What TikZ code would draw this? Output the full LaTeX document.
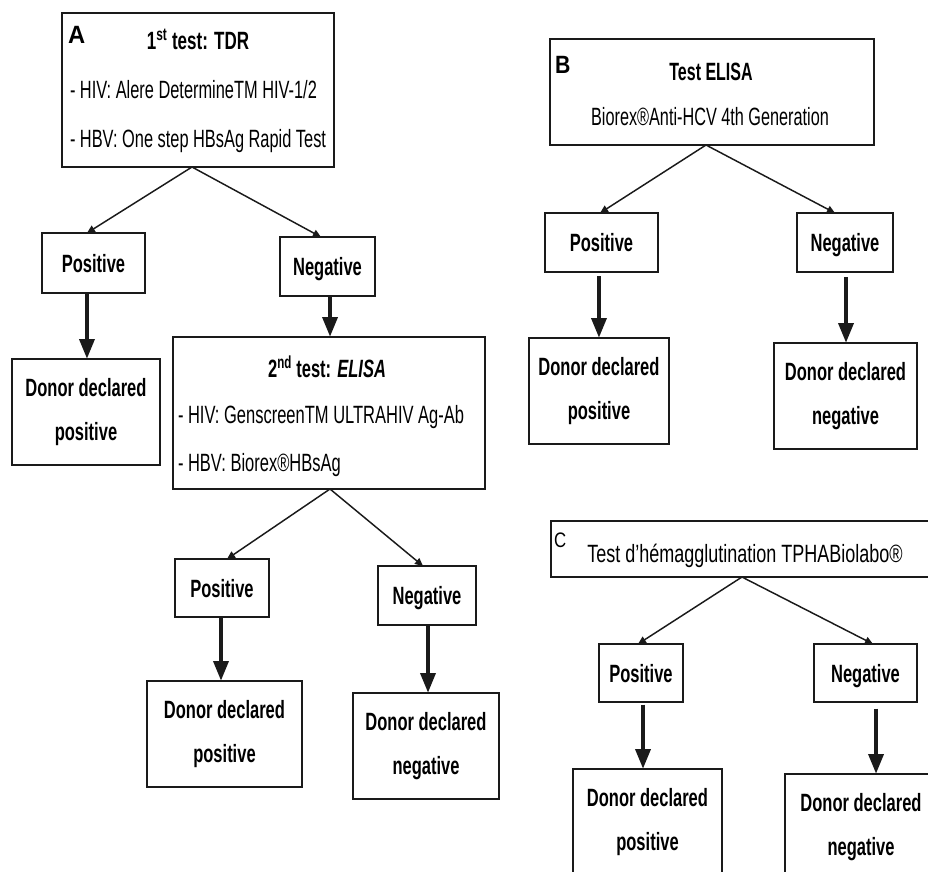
\documentclass[tikz,border=0pt]{standalone}
\usepackage{fontspec}
\setmainfont{Liberation Sans}
\usepackage{graphicx}
\usetikzlibrary{arrows.meta}
\definecolor{ink}{HTML}{1A1A1A}
\newcommand\bsq[2]{\scalebox{#1}[1]{\bfseries #2}}
\newcommand\rsq[2]{\scalebox{#1}[1]{#2}}
\tikzset{
  frame/.style={draw=ink, line width=1.5pt, inner sep=0pt, outer sep=0pt, fill=white},
  sz/.style 2 args={minimum width=#1*0.75pt, minimum height=#2*0.75pt},
  onel/.style={font=\fontsize{18.75pt}{22pt}\selectfont, text depth=0pt},
  twol/.style={font=\fontsize{18.75pt}{33pt}\selectfont, align=center},
  txt/.style={inner sep=0pt, outer sep=0pt, text=black, font=\fontsize{18.75pt}{22pt}\selectfont},
  thin/.style={draw=ink, line width=1.1pt, -{Triangle[length=6pt,width=5.5pt]}},
  thick/.style={draw=ink, line width=3.3pt, -{Triangle[length=15pt,width=11pt]}}
}
\begin{document}
\begin{tikzpicture}[x=0.75pt,y=-0.75pt]
\useasboundingbox (0,0) rectangle (928,871);
\clip (0,0) rectangle (928,871);
\fill[white] (0,0) rectangle (928,871);

% ---------- Panel A ----------
\node[frame, sz={272}{154}] (boxA) at (198,90) {};
\node[txt, anchor=base west] (labA) at (68,43) {\bsq{0.95}{A}};
\node[txt, anchor=base] (tA1) at (198,49) {\bsq{0.68}{1\textsuperscript{st} test: TDR}};
\node[txt, anchor=base west] (tA2) at (70,98) {\rsq{0.655}{- HIV: Alere DetermineTM HIV-1/2}};
\node[txt, anchor=base west] (tA3) at (70,147) {\rsq{0.655}{- HBV: One step HBsAg Rapid Test}};

\node[frame, sz={103}{60}, onel] (posA) at (93.5,263) {\bsq{0.66}{Positive}};
\node[frame, sz={95}{59}, onel] (negA) at (327.5,266.5) {\bsq{0.66}{Negative}};
\node[frame, sz={148}{106}, twol] (dposA) at (86,412) {\bsq{0.66}{Donor declared}\\\bsq{0.66}{positive}};

\node[frame, sz={312}{152}] (elisa) at (329,413) {};
\node[txt, anchor=base] (tE1) at (327,377) {\bsq{0.66}{2\textsuperscript{nd} test: \textit{ELISA}}};
\node[txt, anchor=base west] (tE2) at (178,423) {\rsq{0.66}{- HIV: GenscreenTM ULTRAHIV Ag-Ab}};
\node[txt, anchor=base west] (tE3) at (178,471) {\rsq{0.66}{- HBV: Biorex®HBsAg}};

\node[frame, sz={94}{58}, onel] (pos2) at (222,588) {\bsq{0.66}{Positive}};
\node[frame, sz={98}{59}, onel] (neg2) at (427,595.5) {\bsq{0.66}{Negative}};
\node[frame, sz={155}{106}, twol] (dpos2) at (224.5,734) {\bsq{0.66}{Donor declared}\\\bsq{0.66}{positive}};
\node[frame, sz={146}{106}, twol] (dneg2) at (426,746) {\bsq{0.66}{Donor declared}\\\bsq{0.66}{negative}};

\draw[thin] ([xshift=-4.5pt]boxA.south) -- ([xshift=-4.9pt]posA.north);
\draw[thin] ([xshift=-4.5pt]boxA.south) -- ([xshift=-4.9pt]negA.north);
\draw[thick] ([xshift=-4.9pt]posA.south) -- ([xshift=-4.9pt]posA.south |- dposA.north);
\draw[thick] ([xshift=1.9pt]negA.south) -- ([xshift=1.9pt]negA.south |- elisa.north);
\draw[thin] ([xshift=0.75pt]elisa.south) -- ([xshift=3.75pt]pos2.north);
\draw[thin] ([xshift=0.75pt]elisa.south) -- ([xshift=-3pt]neg2.north);
\draw[thick] ([xshift=-0.75pt]pos2.south) -- ([xshift=-0.75pt]pos2.south |- dpos2.north);
\draw[thick] ([xshift=0.75pt]neg2.south) -- ([xshift=0.75pt]neg2.south |- dneg2.north);

% ---------- Panel B ----------
\node[frame, sz={324}{106}] (boxB) at (712,92) {};
\node[txt, anchor=base west] (labB) at (555,73) {\bsq{0.85}{B}};
\node[txt, anchor=base] (tB1) at (711,80) {\bsq{0.64}{Test ELISA}};
\node[txt, anchor=base] (tB2) at (710,125) {\rsq{0.65}{Biorex®Anti-HCV 4th Generation}};

\node[frame, sz={113}{59}, onel] (posB) at (601.5,242.5) {\bsq{0.66}{Positive}};
\node[frame, sz={96}{59}, onel] (negB) at (845,242.5) {\bsq{0.66}{Negative}};
\node[frame, sz={140}{106}, twol] (dposB) at (599,391) {\bsq{0.66}{Donor declared}\\\bsq{0.66}{positive}};
\node[frame, sz={143}{106}, twol] (dnegB) at (845.5,396) {\bsq{0.66}{Donor declared}\\\bsq{0.66}{negative}};

\draw[thin] ([xshift=-4.5pt]boxB.south) -- ([xshift=-1.1pt]posB.north);
\draw[thin] ([xshift=-4.5pt]boxB.south) -- ([xshift=-7.5pt]negB.north);
\draw[thick, shorten <=3pt] ([xshift=-1.9pt]posB.south) -- ([xshift=-1.9pt]posB.south |- dposB.north);
\draw[thick, shorten <=4pt] ([xshift=0.75pt]negB.south) -- ([xshift=0.75pt]negB.south |- dnegB.north);

% ---------- Panel C ----------
\node[frame, sz={379}{56}] (boxC) at (740.5,549) {};
\node[txt, anchor=base west, font=\fontsize{15.75pt}{18pt}\selectfont] (labC) at (554,547) {\rsq{0.8}{C}};
\node[txt, anchor=base] (tC1) at (745,562) {\rsq{0.72}{Test d’hémagglutination TPHABiolabo®}};

\node[frame, sz={84}{58}, onel] (posC) at (641,673) {\bsq{0.66}{Positive}};
\node[frame, sz={103}{58}, onel] (negC) at (865.5,673) {\bsq{0.66}{Negative}};
\node[frame, sz={149}{106}, twol] (dposC) at (647.5,822) {\bsq{0.66}{Donor declared}\\\bsq{0.66}{positive}};
\node[frame, sz={152}{106}, twol] (dnegC) at (861,827) {\bsq{0.66}{Donor declared}\\\bsq{0.66}{negative}};

\draw[thin] ([xshift=1.1pt]boxC.south) -- ([xshift=-2.25pt]posC.north);
\draw[thin] ([xshift=1.1pt]boxC.south) -- ([xshift=5.6pt]negC.north);
\draw[thick, shorten <=2pt] ([xshift=1.5pt]posC.south) -- ([xshift=1.5pt]posC.south |- dposC.north);
\draw[thick, shorten <=5pt] ([xshift=7.9pt]negC.south) -- ([xshift=7.9pt]negC.south |- dnegC.north);
\end{tikzpicture}
\end{document}
